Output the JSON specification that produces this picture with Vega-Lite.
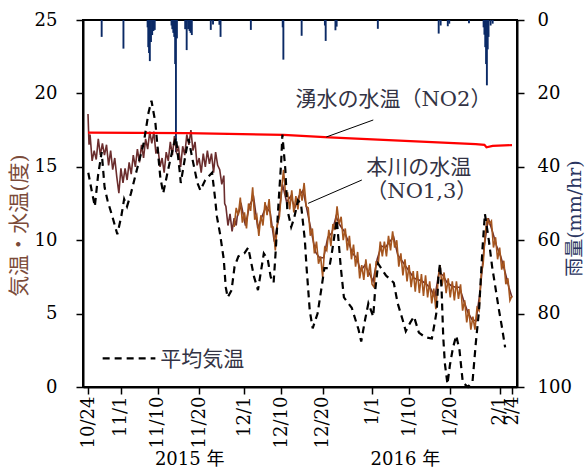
{
  "$schema": "https://vega.github.io/schema/vega-lite/v6.json",
  "width": 434,
  "height": 367,
  "autosize": {"type": "none"},
  "padding": {"left": 83, "top": 20, "right": 70, "bottom": 87},
  "background": "white",
  "config": {
    "view": {"stroke": "black", "strokeWidth": 2},
    "axis": {
      "labelFont": "DejaVu Serif",
      "labelFontSize": 18,
      "labelColor": "black",
      "domainColor": "black",
      "domainWidth": 2,
      "tickColor": "black",
      "tickWidth": 1.5,
      "tickSize": 7,
      "grid": false,
      "titleFont": "DejaVu Serif, Noto Sans CJK JP",
      "titleFontWeight": "normal"
    },
    "axisX": {
      "labelAngle": 270,
      "labelAlign": "right",
      "labelBaseline": "middle",
      "labelPadding": 2,
      "labelOverlap": false,
      "labelSeparation": -15,
      "labelFlush": false,
      "labelBound": false,
      "tickCount": 30
    }
  },
  "datasets": {
    "rain": [
      {"day": 3.32, "rain": 4.6}, {"day": 8.61, "rain": 7.8},
      {"day": 14.48, "rain": 2}, {"day": 14.64, "rain": 7.4}, {"day": 14.83, "rain": 9}, {"day": 15.02, "rain": 11.2}, {"day": 15.3, "rain": 6}, {"day": 15.59, "rain": 4.1}, {"day": 15.9, "rain": 3}, {"day": 16.21, "rain": 2.7},
      {"day": 20.29, "rain": 1.5}, {"day": 20.48, "rain": 2.5}, {"day": 20.72, "rain": 3.5}, {"day": 20.95, "rain": 4.6}, {"day": 21.17, "rain": 12}, {"day": 21.36, "rain": 36}, {"day": 21.6, "rain": 5},
      {"day": 23.61, "rain": 2.5}, {"day": 23.97, "rain": 8.2}, {"day": 24.32, "rain": 2.5}, {"day": 24.68, "rain": 3}, {"day": 24.92, "rain": 3.5}, {"day": 25.22, "rain": 4.1},
      {"day": 29.83, "rain": 2.7}, {"day": 30.37, "rain": 1.2}, {"day": 31.92, "rain": 1.3}, {"day": 32.2, "rain": 4.6},
      {"day": 39.56, "rain": 2.7}, {"day": 47.3, "rain": 2}, {"day": 47.46, "rain": 10.8}, {"day": 51.9, "rain": 4.3},
      {"day": 57.55, "rain": 1.5}, {"day": 57.74, "rain": 5.7}, {"day": 60.11, "rain": 2.8}, {"day": 60.4, "rain": 1.8},
      {"day": 70.41, "rain": 2.4}, {"day": 85.19, "rain": 3.7}, {"day": 85.67, "rain": 1.5}, {"day": 87.4, "rain": 1.7}, {"day": 87.76, "rain": 1},
      {"day": 92.55, "rain": 0.9}, {"day": 96.1, "rain": 2}, {"day": 96.3, "rain": 4}, {"day": 96.5, "rain": 7.4}, {"day": 96.7, "rain": 12}, {"day": 96.9, "rain": 17.8}, {"day": 97.1, "rain": 8}, {"day": 97.3, "rain": 4.6}, {"day": 97.8, "rain": 1.5}, {"day": 98.3, "rain": 1}
    ],
    "no1": [
      {"day": 0, "t": 18.6}, {"day": 0.25, "t": 16.5}, {"day": 0.5, "t": 17.2}, {"day": 1, "t": 15.4}, {"day": 1.5, "t": 16.1}, {"day": 2, "t": 15.5}, {"day": 2.5, "t": 16.9}, {"day": 3, "t": 15.8}, {"day": 3.5, "t": 16.6}, {"day": 4, "t": 15.8},
      {"day": 4.5, "t": 16.5}, {"day": 5, "t": 15.1}, {"day": 5.5, "t": 16.1}, {"day": 6, "t": 14.8}, {"day": 6.5, "t": 15.6}, {"day": 7, "t": 14.3}, {"day": 7.5, "t": 13.2}, {"day": 8, "t": 14.9}, {"day": 8.5, "t": 13.9}, {"day": 9, "t": 14.9},
      {"day": 9.5, "t": 14.1}, {"day": 10, "t": 15.3}, {"day": 10.5, "t": 14.5}, {"day": 11, "t": 15.8}, {"day": 11.5, "t": 15.0}, {"day": 12, "t": 16.2}, {"day": 12.5, "t": 15.3}, {"day": 13, "t": 16.5}, {"day": 13.5, "t": 15.6}, {"day": 14, "t": 16.9},
      {"day": 14.5, "t": 16.2}, {"day": 15, "t": 17.4}, {"day": 15.5, "t": 16.6}, {"day": 16, "t": 17.4}, {"day": 16.5, "t": 15.9}, {"day": 17, "t": 16.3}, {"day": 17.5, "t": 15.0}, {"day": 18, "t": 15.6}, {"day": 18.5, "t": 14.6}, {"day": 19, "t": 16.0},
      {"day": 19.5, "t": 15.4}, {"day": 20, "t": 16.7}, {"day": 20.5, "t": 15.8}, {"day": 21, "t": 17.1}, {"day": 21.5, "t": 16.0}, {"day": 22, "t": 16.3}, {"day": 22.5, "t": 15.0}, {"day": 23, "t": 16.4}, {"day": 23.5, "t": 15.8}, {"day": 24, "t": 17.2},
      {"day": 24.5, "t": 16.5}, {"day": 25, "t": 17.5}, {"day": 25.5, "t": 16.1}, {"day": 26, "t": 16.7}, {"day": 26.5, "t": 15.1}, {"day": 27, "t": 15.6}, {"day": 27.5, "t": 14.6}, {"day": 28, "t": 15.9}, {"day": 28.5, "t": 15.0}, {"day": 29, "t": 16.1},
      {"day": 29.5, "t": 15.2}, {"day": 30, "t": 15.9}, {"day": 30.5, "t": 14.6}, {"day": 31, "t": 16.0}, {"day": 31.5, "t": 15.1}, {"day": 32, "t": 14.8}, {"day": 32.5, "t": 13.8}, {"day": 33, "t": 14.4}, {"day": 33.2, "t": 12.5}, {"day": 33.5, "t": 12.3},
      {"day": 34, "t": 11.0}, {"day": 34.5, "t": 11.8}, {"day": 35, "t": 10.6}, {"day": 35.5, "t": 11.5}, {"day": 36, "t": 11.0},
      {"day": 36.25, "t": 11.6}, {"day": 37.25, "t": 12.4}, {"day": 38.25, "t": 11.0}, {"day": 39.25, "t": 12.4}, {"day": 40.25, "t": 12.9}, {"day": 41.25, "t": 10.8}, {"day": 42.25, "t": 11.6}, {"day": 43.25, "t": 12.3}, {"day": 44.25, "t": 11.9}, {"day": 45.25, "t": 9.9},
      {"day": 46.25, "t": 11.4}, {"day": 47.25, "t": 13.8}, {"day": 48.25, "t": 12.6}, {"day": 49.25, "t": 13.0}, {"day": 50.25, "t": 12.2}, {"day": 51.25, "t": 13.0}, {"day": 52.25, "t": 13.4}, {"day": 53.25, "t": 12.0}, {"day": 54.25, "t": 10.6}, {"day": 55.25, "t": 9.2},
      {"day": 56.25, "t": 8.8}, {"day": 57.25, "t": 8.8}, {"day": 58.25, "t": 10.2}, {"day": 59.25, "t": 10.5}, {"day": 60.25, "t": 11.6}, {"day": 61.25, "t": 11.0}, {"day": 62.25, "t": 10.6}, {"day": 63.25, "t": 9.9}, {"day": 64.25, "t": 9.1}, {"day": 65.25, "t": 8.8},
      {"day": 66.25, "t": 7.9}, {"day": 67.25, "t": 8.3}, {"day": 68.25, "t": 7.8}, {"day": 69.25, "t": 7.2}, {"day": 70.25, "t": 8.7}, {"day": 71.25, "t": 9.6}, {"day": 72.25, "t": 9.5}, {"day": 73.25, "t": 9.9}, {"day": 74.25, "t": 10.2}, {"day": 75.25, "t": 9.0},
      {"day": 76.25, "t": 8.6}, {"day": 77.25, "t": 8.2}, {"day": 78.25, "t": 7.8}, {"day": 79.25, "t": 7.4}, {"day": 80.25, "t": 7.3}, {"day": 81.25, "t": 7.2}, {"day": 82.25, "t": 7.0}, {"day": 83.25, "t": 6.7}, {"day": 84.25, "t": 6.1}, {"day": 85.25, "t": 7.8},
      {"day": 86.25, "t": 7.6}, {"day": 87.25, "t": 7.1}, {"day": 88.25, "t": 6.9}, {"day": 89.25, "t": 6.8}, {"day": 90.25, "t": 6.8}, {"day": 91.25, "t": 5.9}, {"day": 92.25, "t": 5.1}, {"day": 93.25, "t": 4.6}, {"day": 94.25, "t": 4.5}, {"day": 95.25, "t": 6.5},
      {"day": 96.25, "t": 9.6}, {"day": 97.25, "t": 11.5}, {"day": 98.25, "t": 10.6}, {"day": 99.25, "t": 9.6}, {"day": 100.25, "t": 8.9}, {"day": 101.25, "t": 7.9}, {"day": 102.25, "t": 6.8}, {"day": 103, "t": 6.1}
    ],
    "no3": [
      {"day": 35.5, "t": 10.9}, {"day": 36, "t": 12.2}, {"day": 36.5, "t": 11.7}, {"day": 37, "t": 12.9}, {"day": 37.5, "t": 11.2}, {"day": 38, "t": 11.9}, {"day": 38.5, "t": 10.8}, {"day": 39, "t": 12.5}, {"day": 39.5, "t": 12.0}, {"day": 40, "t": 13.6},
      {"day": 40.5, "t": 11.4}, {"day": 41, "t": 11.7}, {"day": 41.5, "t": 10.3}, {"day": 42, "t": 11.7}, {"day": 42.5, "t": 11.0}, {"day": 43, "t": 12.6}, {"day": 43.5, "t": 11.7}, {"day": 44, "t": 12.8}, {"day": 44.5, "t": 10.9}, {"day": 45, "t": 10.9},
      {"day": 45.5, "t": 9.3}, {"day": 46, "t": 11.1}, {"day": 46.5, "t": 11.6}, {"day": 47, "t": 13.4}, {"day": 47.5, "t": 14.8}, {"day": 48, "t": 13.1}, {"day": 48.5, "t": 13.2}, {"day": 49, "t": 12.1}, {"day": 49.5, "t": 13.4}, {"day": 50, "t": 11.9},
      {"day": 50.5, "t": 13.0}, {"day": 51, "t": 12.1}, {"day": 51.5, "t": 13.5}, {"day": 52, "t": 12.7}, {"day": 52.5, "t": 13.9}, {"day": 53, "t": 12.3}, {"day": 53.5, "t": 12.2}, {"day": 54, "t": 10.3}, {"day": 54.5, "t": 10.8}, {"day": 55, "t": 9.1},
      {"day": 55.5, "t": 9.9}, {"day": 56, "t": 8.4}, {"day": 56.5, "t": 8.9}, {"day": 57, "t": 7.5}, {"day": 57.5, "t": 9.5}, {"day": 58, "t": 9.3}, {"day": 58.5, "t": 10.7}, {"day": 59, "t": 9.6}, {"day": 59.5, "t": 11.1}, {"day": 60, "t": 10.7},
      {"day": 60.5, "t": 12.3}, {"day": 61, "t": 11.1}, {"day": 61.5, "t": 11.6}, {"day": 62, "t": 10.0}, {"day": 62.5, "t": 10.8}, {"day": 63, "t": 9.3}, {"day": 63.5, "t": 10.3}, {"day": 64, "t": 8.7}, {"day": 64.5, "t": 9.7}, {"day": 65, "t": 8.2},
      {"day": 65.5, "t": 9.2}, {"day": 66, "t": 7.4}, {"day": 66.5, "t": 8.3}, {"day": 67, "t": 7.3}, {"day": 67.5, "t": 8.7}, {"day": 68, "t": 7.5}, {"day": 68.5, "t": 8.4}, {"day": 69, "t": 7.0}, {"day": 69.5, "t": 6.8}, {"day": 70, "t": 8.5},
      {"day": 70.5, "t": 8.4}, {"day": 71, "t": 9.9}, {"day": 71.5, "t": 8.9}, {"day": 72, "t": 9.9}, {"day": 72.5, "t": 8.9}, {"day": 73, "t": 10.3}, {"day": 73.5, "t": 9.3}, {"day": 74, "t": 10.6}, {"day": 74.5, "t": 9.5}, {"day": 75, "t": 10.0},
      {"day": 75.5, "t": 8.2}, {"day": 76, "t": 9.1}, {"day": 76.5, "t": 7.6}, {"day": 77, "t": 8.7}, {"day": 77.5, "t": 7.2}, {"day": 78, "t": 8.3}, {"day": 78.5, "t": 6.8}, {"day": 79, "t": 7.9}, {"day": 79.5, "t": 6.5}, {"day": 80, "t": 7.9},
      {"day": 80.5, "t": 6.4}, {"day": 81, "t": 7.7}, {"day": 81.5, "t": 6.2}, {"day": 82, "t": 7.6}, {"day": 82.5, "t": 6.1}, {"day": 83, "t": 7.2}, {"day": 83.5, "t": 5.7}, {"day": 84, "t": 6.7}, {"day": 84.5, "t": 5.3}, {"day": 85, "t": 7.1},
      {"day": 85.5, "t": 8.3}, {"day": 86, "t": 6.9}, {"day": 86.5, "t": 7.8}, {"day": 87, "t": 6.4}, {"day": 87.5, "t": 7.4}, {"day": 88, "t": 6.1}, {"day": 88.5, "t": 7.2}, {"day": 89, "t": 5.9}, {"day": 89.5, "t": 7.2}, {"day": 90, "t": 6.0},
      {"day": 90.5, "t": 7.0}, {"day": 91, "t": 5.2}, {"day": 91.5, "t": 5.9}, {"day": 92, "t": 4.4}, {"day": 92.5, "t": 5.3}, {"day": 93, "t": 3.9}, {"day": 93.5, "t": 4.8}, {"day": 94, "t": 3.9}, {"day": 94.5, "t": 5.4}, {"day": 95, "t": 5.2},
      {"day": 95.5, "t": 7.6}, {"day": 96, "t": 8.4}, {"day": 96.5, "t": 10.5}, {"day": 97, "t": 11.5}, {"day": 97.5, "t": 11.1}, {"day": 98, "t": 11.3}, {"day": 98.5, "t": 9.5}, {"day": 99, "t": 10.2}, {"day": 99.5, "t": 8.7}, {"day": 100, "t": 9.5},
      {"day": 100.5, "t": 8.0}, {"day": 101, "t": 8.6}, {"day": 101.5, "t": 7.0}, {"day": 102, "t": 7.4}, {"day": 102.5, "t": 5.9}, {"day": 103, "t": 6.2}
    ],
    "no2": [
      {"day": 0, "t": 17.33}, {"day": 24, "t": 17.3}, {"day": 47.5, "t": 17.17}, {"day": 58.6, "t": 17.0}, {"day": 78.3, "t": 16.75}, {"day": 94.2, "t": 16.55}, {"day": 96.3, "t": 16.5}, {"day": 96.8, "t": 16.33}, {"day": 98.3, "t": 16.42}, {"day": 103, "t": 16.48}
    ],
    "air": [
      {"day": 0.07, "t": 14.6}, {"day": 0.88, "t": 13.4}, {"day": 1.66, "t": 12.3}, {"day": 2.44, "t": 14.4}, {"day": 3.32, "t": 16.0}, {"day": 4.03, "t": 13.6}, {"day": 4.75, "t": 12.7}, {"day": 5.93, "t": 11.6}, {"day": 7.12, "t": 10.4}, {"day": 8.07, "t": 11.6},
      {"day": 8.78, "t": 12.8}, {"day": 9.49, "t": 12.3}, {"day": 10.44, "t": 13.2}, {"day": 11.87, "t": 14.8}, {"day": 13.53, "t": 16.6}, {"day": 14.71, "t": 18.7}, {"day": 15.42, "t": 19.5}, {"day": 16.37, "t": 18.0}, {"day": 17.09, "t": 15.7}, {"day": 17.56, "t": 14.3},
      {"day": 18.27, "t": 13.2}, {"day": 19.46, "t": 14.8}, {"day": 20.65, "t": 16.3}, {"day": 21.36, "t": 17.0}, {"day": 22.31, "t": 14.6}, {"day": 22.54, "t": 13.9}, {"day": 23.73, "t": 15.9}, {"day": 24.44, "t": 16.9}, {"day": 25.39, "t": 15.5}, {"day": 26.58, "t": 13.9},
      {"day": 27.29, "t": 13.4}, {"day": 28.48, "t": 14.1}, {"day": 30.14, "t": 14.6}, {"day": 30.85, "t": 12.9}, {"day": 31.32, "t": 11.6}, {"day": 32.04, "t": 10.5}, {"day": 32.98, "t": 8.7}, {"day": 33.46, "t": 6.8}, {"day": 33.93, "t": 6.1}, {"day": 34.88, "t": 6.6},
      {"day": 35.6, "t": 8.2}, {"day": 36.54, "t": 8.9}, {"day": 37.97, "t": 9.1}, {"day": 38.92, "t": 9.5}, {"day": 40.34, "t": 7.5}, {"day": 41.29, "t": 6.6}, {"day": 42.71, "t": 9.1}, {"day": 43.66, "t": 8.7}, {"day": 44.38, "t": 7.5}, {"day": 45.09, "t": 7.1},
      {"day": 45.56, "t": 9.1}, {"day": 46.28, "t": 12.5}, {"day": 46.92, "t": 15.3}, {"day": 47.22, "t": 17.2}, {"day": 47.94, "t": 14.8}, {"day": 48.41, "t": 12.1}, {"day": 49.36, "t": 10.9}, {"day": 50.07, "t": 11.5}, {"day": 51.02, "t": 12.7}, {"day": 51.73, "t": 12.5},
      {"day": 52.68, "t": 10.0}, {"day": 53.08, "t": 8.2}, {"day": 53.87, "t": 5.2}, {"day": 54.58, "t": 4.0}, {"day": 55.77, "t": 5.0}, {"day": 56.64, "t": 6.6}, {"day": 57.43, "t": 8.1}, {"day": 58.61, "t": 8.1}, {"day": 59.33, "t": 9.3}, {"day": 60.44, "t": 11.4},
      {"day": 61.39, "t": 8.2}, {"day": 62.17, "t": 6.1}, {"day": 64.07, "t": 5.4}, {"day": 65.73, "t": 3.9}, {"day": 66.37, "t": 3.1}, {"day": 67.32, "t": 4.6}, {"day": 68.11, "t": 5.7}, {"day": 69.29, "t": 4.8}, {"day": 69.7, "t": 6.4}, {"day": 70.48, "t": 8.4},
      {"day": 72.38, "t": 7.6}, {"day": 74.28, "t": 7.1}, {"day": 75.23, "t": 5.7}, {"day": 76.41, "t": 4.6}, {"day": 77.2, "t": 3.8}, {"day": 78.31, "t": 4.4}, {"day": 79.19, "t": 4.8}, {"day": 80.38, "t": 3.7}, {"day": 81.87, "t": 3.4}, {"day": 83.53, "t": 3.3},
      {"day": 84.24, "t": 4.4}, {"day": 84.72, "t": 5.2}, {"day": 85.12, "t": 7.5}, {"day": 85.5, "t": 8.4}, {"day": 85.9, "t": 6.6}, {"day": 86.3, "t": 3.4}, {"day": 86.69, "t": 1.6}, {"day": 87.33, "t": 0.2}, {"day": 87.92, "t": 1.5}, {"day": 88.68, "t": 2.7},
      {"day": 89.46, "t": 3.5}, {"day": 90.25, "t": 2.5}, {"day": 91.05, "t": 0.3}, {"day": 92.3, "t": 0.0}, {"day": 93.42, "t": 0.4}, {"day": 94.21, "t": 3.0}, {"day": 94.99, "t": 5.2}, {"day": 95.8, "t": 9.3}, {"day": 96.42, "t": 11.8}, {"day": 97.37, "t": 10.0},
      {"day": 98.17, "t": 8.2}, {"day": 98.96, "t": 6.8}, {"day": 99.74, "t": 5.4}, {"day": 100.54, "t": 4.1}, {"day": 101.33, "t": 2.7}
    ],
    "notes": [
      {"day": 50.4, "t": 19.55, "label": "湧水の水温（NO2）"},
      {"day": 67.6, "t": 14.92, "label": "本川の水温"},
      {"day": 67.6, "t": 13.25, "label": "（NO1,3）"},
      {"day": 17.56, "t": 1.87, "label": "平均気温"}
    ],
    "years": [
      {"day": 24.7, "t": -4.97, "label": "2015 年"},
      {"day": 77.1, "t": -4.97, "label": "2016 年"}
    ],
    "leaders": [
      {"day": 57.9, "t": 17.03, "day2": 69.3, "t2": 18.19},
      {"day": 53.47, "t": 12.51, "day2": 66.52, "t2": 14.1}
    ],
    "legendline": [
      {"day": 3.56, "t": 1.95, "day2": 16.37}
    ]
  },
  "layer": [
    {
      "data": {"name": "rain"},
      "mark": {"type": "bar", "size": 1.9, "color": "#0b2a66"},
      "encoding": {
        "x": {"field": "day", "type": "quantitative", "scale": {"domain": [0, 103], "nice": false, "zero": false},
          "axis": {
            "title": null,
            "values": [0, 8, 17, 27, 38, 47, 57, 69, 78, 88, 100, 103],
            "tickCount": 30,
            "labelExpr": "datum.value==0?'10/24':datum.value==8?'11/1':datum.value==17?'11/10':datum.value==27?'11/20':datum.value==38?'12/1':datum.value==47?'12/10':datum.value==57?'12/20':datum.value==69?'1/1':datum.value==78?'1/10':datum.value==88?'1/20':datum.value==100?'2/1':'2/4'",
            "labelOverlap": false,
            "labelSeparation": -15
          }
        },
        "y": {"field": "rain", "type": "quantitative", "scale": {"domain": [0, 100], "reverse": true, "nice": false},
          "axis": {
            "orient": "right",
            "values": [0, 20, 40, 60, 80, 100],
            "labelPadding": 13,
            "labelAlign": "left",
            "title": "雨量(mm/hr)",
            "titleFontSize": 19,
            "titleColor": "#2a3560",
            "titleAngle": 270,
            "titleBaseline": "middle",
            "titleX": 57,
            "titleY": 198
          }
        }
      }
    },
    {
      "layer": [
        {
          "data": {"name": "no1"},
          "mark": {"type": "line", "color": "#6b2d2d", "strokeWidth": 1.6},
          "encoding": {
            "x": {"field": "day", "type": "quantitative"},
            "y": {"field": "t", "type": "quantitative", "scale": {"domain": [0, 25], "nice": false},
              "axis": {
                "orient": "left",
                "values": [0, 5, 10, 15, 20, 25],
                "labelPadding": 19,
                "title": "気温・水温(度)",
                "titleFontSize": 21,
                "titleColor": "#7b4b3a",
                "titleAngle": 270,
                "titleBaseline": "middle",
                "titleX": -64,
                "titleY": 205
              }
            }
          }
        },
        {
          "data": {"name": "no3"},
          "mark": {"type": "line", "color": "#a5551e", "strokeWidth": 1.6},
          "encoding": {
            "x": {"field": "day", "type": "quantitative"},
            "y": {"field": "t", "type": "quantitative"}
          }
        },
        {
          "data": {"name": "no2"},
          "mark": {"type": "line", "color": "#ff0000", "strokeWidth": 2.2},
          "encoding": {
            "x": {"field": "day", "type": "quantitative"},
            "y": {"field": "t", "type": "quantitative"}
          }
        },
        {
          "data": {"name": "air"},
          "mark": {"type": "line", "color": "black", "strokeWidth": 2.2, "strokeDash": [7, 5]},
          "encoding": {
            "x": {"field": "day", "type": "quantitative"},
            "y": {"field": "t", "type": "quantitative"}
          }
        },
        {
          "data": {"name": "legendline"},
          "mark": {"type": "rule", "color": "black", "strokeWidth": 2.2, "strokeDash": [7, 5]},
          "encoding": {
            "x": {"field": "day", "type": "quantitative"},
            "x2": {"field": "day2"},
            "y": {"field": "t", "type": "quantitative"}
          }
        },
        {
          "data": {"name": "leaders"},
          "mark": {"type": "rule", "color": "black", "strokeWidth": 1},
          "encoding": {
            "x": {"field": "day", "type": "quantitative"},
            "x2": {"field": "day2"},
            "y": {"field": "t", "type": "quantitative"},
            "y2": {"field": "t2"}
          }
        },
        {
          "data": {"name": "notes"},
          "mark": {"type": "text", "align": "left", "baseline": "middle", "font": "DejaVu Serif, Noto Sans CJK JP", "fontSize": 21, "color": "#333344"},
          "encoding": {
            "x": {"field": "day", "type": "quantitative"},
            "y": {"field": "t", "type": "quantitative"},
            "text": {"field": "label"}
          }
        },
        {
          "data": {"name": "years"},
          "mark": {"type": "text", "align": "center", "baseline": "middle", "font": "DejaVu Serif, Noto Sans CJK JP", "fontSize": 18, "color": "black"},
          "encoding": {
            "x": {"field": "day", "type": "quantitative"},
            "y": {"field": "t", "type": "quantitative"},
            "text": {"field": "label"}
          }
        }
      ]
    }
  ],
  "resolve": {"scale": {"y": "independent"}, "axis": {"y": "independent"}}
}
